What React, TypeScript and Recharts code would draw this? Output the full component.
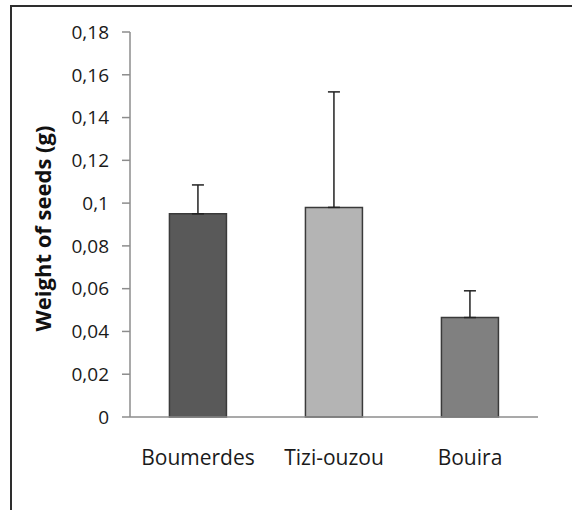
import { BarChart, Bar, XAxis, YAxis, ErrorBar, Cell } from "recharts";

const regions = ["Boumerdes", "Tizi-ouzou", "Bouira"];
const weights = [0.095, 0.098, 0.0465];
const errorsUp = [0.0135, 0.054, 0.0125];
const barColors = ["#595959", "#b4b4b4", "#808080"];
const yTicks = [0, 0.02, 0.04, 0.06, 0.08, 0.1, 0.12, 0.14, 0.16, 0.18];

const data = regions.map((region, i) => ({
  region,
  weight: weights[i],
  err: [0, errorsUp[i]],
}));

const fmt = (v: number) => String(Number(v.toFixed(2))).replace(".", ",");

const font = "'Open Sans', 'DejaVu Sans', sans-serif";

export default function App() {
  return (
    <div style={{ position: "absolute", left: 0, top: 0, width: 572, height: 510, background: "#fff" }}>
      <div
        style={{
          position: "absolute",
          left: 10,
          top: 5,
          width: 562,
          height: 505,
          borderTop: "2px solid #2e2e2e",
          borderLeft: "2px solid #2e2e2e",
        }}
      />
      <div style={{ position: "absolute", left: 0, top: 0 }}>
        <BarChart
          width={572}
          height={510}
          data={data}
          margin={{ top: 32, right: 34, bottom: 33, left: 0 }}
          barCategoryGap="29%"
        >
          <XAxis
            dataKey="region"
            height={60}
            axisLine={{ stroke: "#8c8c8c", strokeWidth: 1.5 }}
            tickLine={false}
            tickMargin={27}
            tick={{ fill: "#1a1a1a", fontSize: 21, fontFamily: font }}
          />
          <YAxis
            width={130}
            domain={[0, 0.18]}
            ticks={yTicks}
            tickFormatter={fmt}
            axisLine={{ stroke: "#8c8c8c", strokeWidth: 1.5 }}
            tickLine={{ stroke: "#8c8c8c", strokeWidth: 1.5 }}
            tickSize={8}
            tickMargin={13}
            tick={{ fill: "#1a1a1a", fontSize: 19, fontFamily: font }}
            label={{
              value: "Weight of seeds (g)",
              angle: -90,
              position: "insideLeft",
              offset: 43,
              dy: 4,
              style: { textAnchor: "middle", fontWeight: "bold", fontSize: 22, fill: "#111", fontFamily: font },
            }}
          />
          <Bar dataKey="weight" stroke="#3a3a3a" strokeWidth={1.5} isAnimationActive={false}>
            {data.map((d, i) => (
              <Cell key={d.region} fill={barColors[i]} />
            ))}
            <ErrorBar dataKey="err" width={6} stroke="#222" strokeWidth={1.5} direction="y" />
          </Bar>
        </BarChart>
      </div>
    </div>
  );
}
